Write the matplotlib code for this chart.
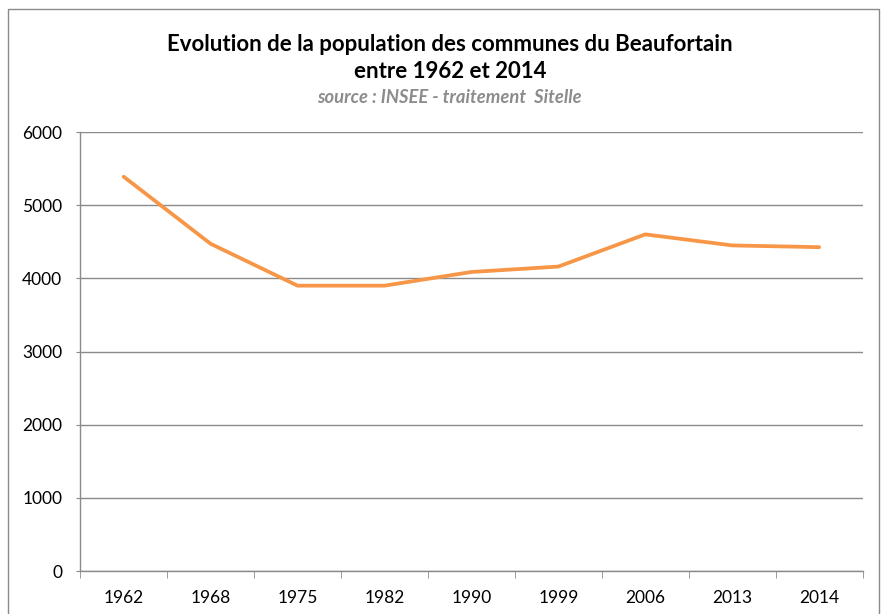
import matplotlib.pyplot as plt
import numpy as np
from matplotlib.patches import Rectangle

# data
annees = ['1962', '1968', '1975', '1982', '1990', '1999', '2006', '2013', '2014']
population = [5389, 4472, 3900, 3900, 4087, 4161, 4601, 4450, 4426]
y_ticks = [0, 1000, 2000, 3000, 4000, 5000, 6000]

plt.rcParams['font.family'] = ['Lato', 'DejaVu Sans']

fig = plt.figure(figsize=(8.82, 6.14), dpi=100)
ax = fig.add_axes([0.091, 0.070, 0.887, 0.715])

x = np.arange(len(annees))
ax.plot(x, population, color='#F79646', linewidth=2.7, solid_joinstyle='round', solid_capstyle='round')

ax.set_xlim(-0.5, len(annees) - 0.5)
ax.set_ylim(0, 6000)
ax.set_yticks(y_ticks)
ax.set_xticks(x)
ax.set_xticklabels(annees)
ax.set_xticks(np.arange(-0.5, len(annees), 1), minor=True)

ax.grid(axis='y', color='#8a8a8a', linewidth=1)
ax.set_axisbelow(True)
for s in ['top', 'right']:
    ax.spines[s].set_visible(False)
for s in ['left', 'bottom']:
    ax.spines[s].set_color('#8a8a8a')
    ax.spines[s].set_linewidth(1)

ax.tick_params(axis='x', which='major', length=0, pad=14, labelsize=12.5)
ax.tick_params(axis='x', which='minor', length=5, color='#8a8a8a')
ax.tick_params(axis='y', length=3, color='#8a8a8a', labelsize=12.5, pad=10)

fig.text(0.51, 0.927, 'Evolution de la population des communes du Beaufortain',
         ha='center', va='center', fontsize=16, fontweight='bold')
fig.text(0.51, 0.884, 'entre 1962 et 2014',
         ha='center', va='center', fontsize=16, fontweight='bold')
fig.text(0.51, 0.841, 'source : INSEE - traitement  Sitelle',
         ha='center', va='center', fontsize=13.2, fontstyle='italic',
         fontweight='bold', color='#8c8c8c')

fig.patches.append(Rectangle((8 / 882, -0.05), 871 / 882, 1.05 - 9 / 614,
                             transform=fig.transFigure, fill=False,
                             edgecolor='#8a8a8a', linewidth=1))

fig.savefig('out.png', dpi=100)
